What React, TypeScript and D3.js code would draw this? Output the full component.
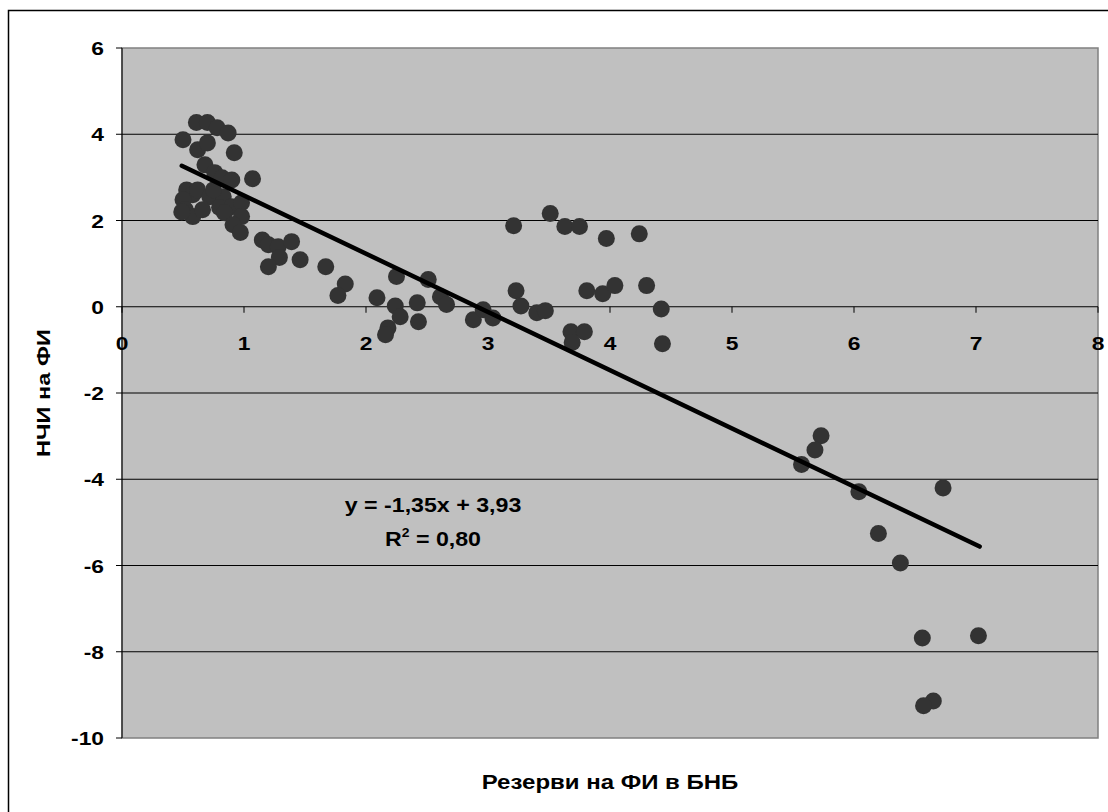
import React from "react";
import * as d3 from "d3";

// reserves of financial institutions at the BNB (x) vs net foreign assets of FI (y)
const reserves = [
  0.5, 0.61, 0.7, 0.78, 0.87, 0.62, 0.7, 0.92, 0.68, 0.76, 0.82, 0.9, 1.07,
  0.53, 0.58, 0.5, 0.52, 0.58, 0.62, 0.72, 0.83, 0.66, 0.8, 0.9, 0.98, 0.84,
  0.98, 0.91, 0.97, 0.75, 0.49,
  1.15, 1.2, 1.28, 1.39, 1.29, 1.2, 1.46, 1.67, 1.83, 1.77, 2.09, 2.25, 2.24,
  2.28, 2.18, 2.16, 2.42, 2.43, 2.51, 2.61, 2.66, 2.88, 2.96, 3.04,
  3.21, 3.23, 3.27, 3.4, 3.47, 3.51, 3.63, 3.75, 3.97, 4.24, 3.81, 3.94, 4.04,
  4.3, 4.42, 3.68, 3.79, 3.69, 4.43,
  5.73, 5.68, 5.57, 6.04, 6.73, 6.2, 6.38, 6.56, 7.02, 6.65, 6.57,
];
const nfa = [
  3.87, 4.27, 4.27, 4.15, 4.03, 3.64, 3.8, 3.57, 3.29, 3.11, 2.99, 2.94, 2.97,
  2.71, 2.6, 2.48, 2.25, 2.09, 2.71, 2.55, 2.55, 2.25, 2.3, 2.32, 2.41, 2.18,
  2.09, 1.9, 1.72, 2.71, 2.2,
  1.55, 1.44, 1.39, 1.51, 1.14, 0.93, 1.09, 0.93, 0.53, 0.26, 0.21, 0.7, 0.02,
  -0.23, -0.49, -0.65, 0.09, -0.35, 0.63, 0.23, 0.05, -0.3, -0.07, -0.26,
  1.88, 0.37, 0.02, -0.14, -0.09, 2.16, 1.86, 1.86, 1.58, 1.69, 0.37, 0.3, 0.49,
  0.49, -0.05, -0.58, -0.58, -0.83, -0.86,
  -2.99, -3.32, -3.66, -4.29, -4.2, -5.26, -5.94, -7.68, -7.63, -9.14, -9.25,
];

const xTicks = [0, 1, 2, 3, 4, 5, 6, 7, 8];
const yTicks = [6, 4, 2, 0, -2, -4, -6, -8, -10];
const trendSlope = -1.35;
const trendIntercept = 3.93;
const eqLabel = "y = -1,35x + 3,93";
const r2Label = "0,80";
const xTitle = "Резерви на ФИ в БНБ";
const yTitle = "НЧИ на ФИ";

const W = 1108;
const H = 812;
const font = "'Liberation Sans', Arial, sans-serif";

const App = () => {
  const x = d3.scaleLinear().domain([0, 8]).range([122, 1098]);
  const y = d3.scaleLinear().domain([-10, 6]).range([738, 48]);

  const xMin = d3.min(reserves) as number;
  const xMax = d3.max(reserves) as number;
  const trend = d3
    .line<number>()
    .x((d) => x(d))
    .y((d) => y(trendSlope * d + trendIntercept));

  const points = reserves.map((v, i) => [v, nfa[i]]);
  const sx = 1.2;

  return (
    <svg
      width={W}
      height={H}
      style={{ position: "absolute", left: 0, top: 0, background: "#fff" }}
      fontFamily={font}
      fontWeight="bold"
    >
      <rect x={8.5} y={10.5} width={1120} height={820} fill="#fff" stroke="#000" strokeWidth={1.5} />

      {/* plot area */}
      <rect
        x={x(0)}
        y={y(6)}
        width={x(8) - x(0)}
        height={y(-10) - y(6)}
        fill="#c0c0c0"
        stroke="#808080"
        strokeWidth={1.5}
      />

      {/* gridlines */}
      {yTicks
        .filter((t) => t !== 6 && t !== -10 && t !== 0)
        .map((t) => (
          <line key={t} x1={x(0)} x2={x(8)} y1={y(t)} y2={y(t)} stroke="#000" strokeWidth={1} />
        ))}

      {/* y axis */}
      <line x1={x(0)} x2={x(0)} y1={y(6)} y2={y(-10)} stroke="#000" strokeWidth={1} />
      {yTicks.map((t) => (
        <g key={t}>
          <line x1={x(0) - 6} x2={x(0)} y1={y(t)} y2={y(t)} stroke="#000" />
          <g transform={`translate(104,${y(t) + 7}) scale(${sx},1)`}>
            <text textAnchor="end" fontSize={19} fill="#000">
              {t}
            </text>
          </g>
        </g>
      ))}

      {/* x axis at y = 0 */}
      <line x1={x(0)} x2={x(8)} y1={y(0)} y2={y(0)} stroke="#000" strokeWidth={1} />
      {xTicks.map((t) => (
        <g key={t}>
          <line x1={x(t)} x2={x(t)} y1={y(0)} y2={y(0) + 6} stroke="#000" />
          <g transform={`translate(${x(t)},${y(0) + 43}) scale(${sx},1)`}>
            <text textAnchor="middle" fontSize={19} fill="#000">
              {t}
            </text>
          </g>
        </g>
      ))}

      {/* points */}
      {points.map((p, i) => (
        <circle key={i} cx={x(p[0])} cy={y(p[1])} r={8.5} fill="#333333" />
      ))}

      {/* trend line */}
      <path
        d={trend([xMin, xMax + 0.01]) || ""}
        fill="none"
        stroke="#000"
        strokeWidth={4.5}
        strokeLinecap="round"
      />

      {/* equation */}
      <g transform={`translate(433,512) scale(1.16,1)`}>
        <text textAnchor="middle" fontSize={20} fill="#000">
          {eqLabel}
        </text>
      </g>
      <g transform={`translate(433,546) scale(1.16,1)`}>
        <text textAnchor="middle" fontSize={20} fill="#000">
          R<tspan fontSize={12} dy={-9}>2</tspan>
          <tspan dy={9}> = {r2Label}</tspan>
        </text>
      </g>

      {/* axis titles */}
      <g transform={`translate(${(x(0) + x(8)) / 2},789) scale(1.2,1)`}>
        <text textAnchor="middle" fontSize={20} fill="#000">
          {xTitle}
        </text>
      </g>
      <g transform={`translate(50,${y(-2)}) rotate(-90) scale(1.24,1)`}>
        <text textAnchor="middle" fontSize={19} fill="#000">
          {yTitle}
        </text>
      </g>
    </svg>
  );
};

export default App;
